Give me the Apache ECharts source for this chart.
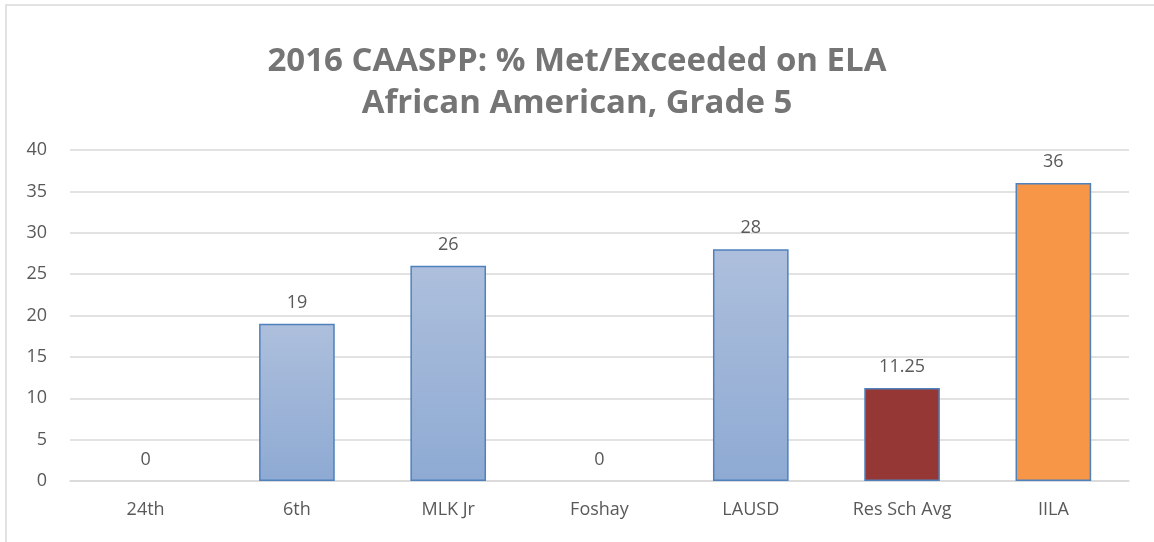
<!DOCTYPE html>
<html>
<head>
<meta charset="utf-8">
<script src="https://cdn.jsdelivr.net/npm/echarts@6/dist/echarts.min.js"></script>
<style>
  html, body { margin: 0; padding: 0; background: #fff; }
  #chart { width: 1154px; height: 542px; }
</style>
</head>
<body>
<div id="chart"></div>
<script>
// Datos del gráfico
const categories = ['24th', '6th', 'MLK Jr', 'Foshay', 'LAUSD', 'Res Sch Avg', 'IILA'];
const values     = [0, 19, 26, 0, 28, 11.25, 36];
const titleLines = ['2016 CAASPP: % Met/Exceeded on ELA', 'African American, Grade 5'];

const blueFill = new echarts.graphic.LinearGradient(0, 0, 0, 1, [
  { offset: 0, color: '#adbfdc' },
  { offset: 1, color: '#8eaad3' },
]);
const fills = { 'Res Sch Avg': '#953735', 'IILA': '#f79646' };

const chart = echarts.init(document.getElementById('chart'), null, { renderer: 'canvas' });

// barras en cero no dibujan borde (como en el original)
const data = values.map((v, i) => ({
  value: v,
  itemStyle: {
    color: fills[categories[i]] || blueFill,
    borderWidth: v === 0 ? 0 : 1.5,
  },
}));

const font = '"Open Sans", sans-serif';

chart.setOption({
  backgroundColor: '#fff',
  animation: false,
  graphic: [{
    type: 'rect',
    shape: { x: 6, y: 5, width: 1160, height: 560 },
    style: { fill: 'none', stroke: '#d9d9d9', lineWidth: 1.5 },
    silent: true,
  }],
  title: {
    text: titleLines.join('\n'),
    left: 'center',
    top: 36,
    textStyle: {
      color: '#757575',
      fontFamily: font,
      fontWeight: 'bold',
      fontSize: 33,
      lineHeight: 42,
    },
  },
  grid: { left: 70, right: 25, top: 150, bottom: 61 },
  xAxis: {
    type: 'category',
    data: categories,
    axisLine: { lineStyle: { color: '#d9d9d9', width: 1.5 } },
    axisTick: { show: false },
    axisLabel: { color: '#595959', fontSize: 18, margin: 20, fontFamily: font },
  },
  yAxis: {
    type: 'value',
    min: 0,
    max: 40,
    interval: 5,
    axisLine: { show: false },
    axisTick: { show: false },
    axisLabel: { color: '#595959', fontSize: 18, margin: 23, fontFamily: font },
    splitLine: { lineStyle: { color: '#d9d9d9', width: 1.5 } },
  },
  series: [{
    type: 'bar',
    data,
    barWidth: '50%',
    itemStyle: { borderColor: '#4f81bd' },
    label: {
      show: true,
      position: 'top',
      distance: 12,
      color: '#595959',
      fontSize: 18,
      fontFamily: font,
    },
  }],
});
</script>
</body>
</html>
